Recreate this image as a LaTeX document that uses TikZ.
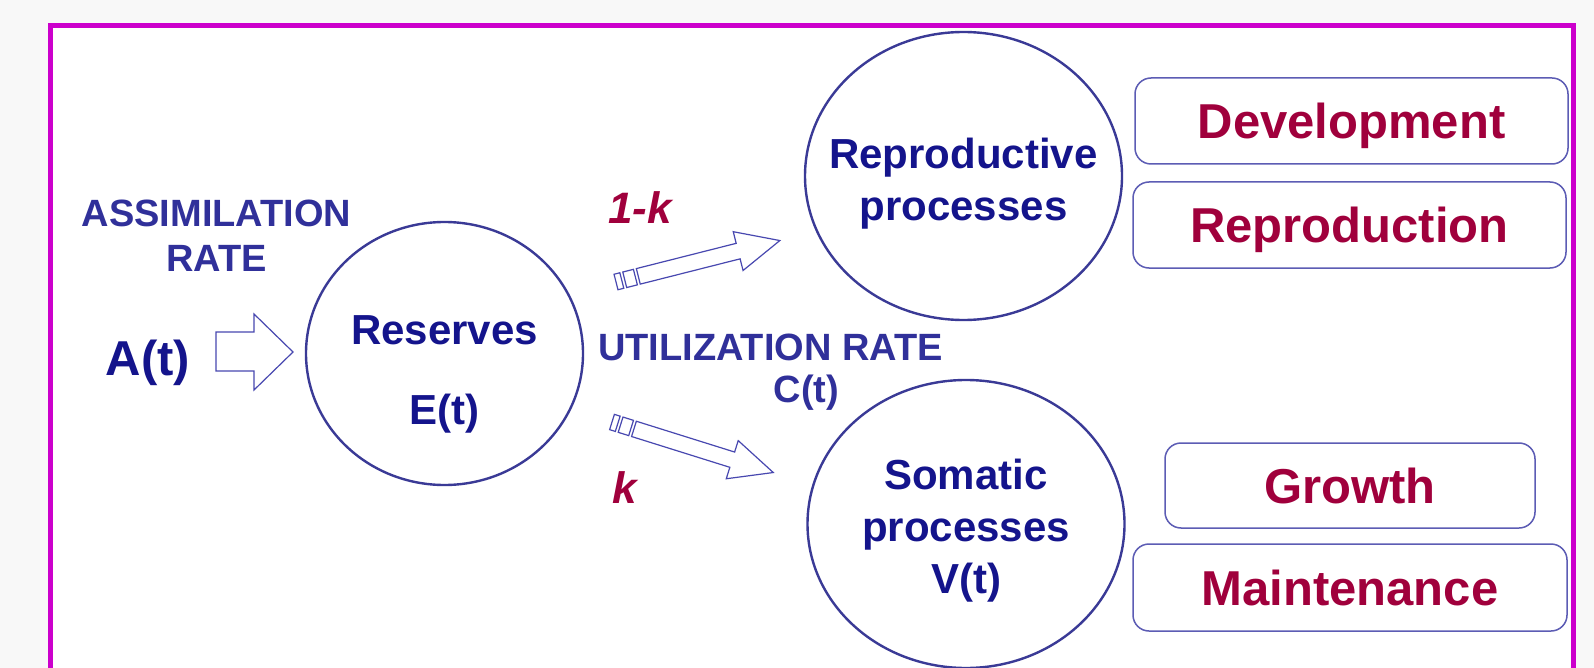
\documentclass[tikz,border=0pt]{standalone}
\usepackage{fontspec}
\setmainfont{Liberation Sans}
\usetikzlibrary{shapes.geometric}
\definecolor{navy}{HTML}{14148C}
\definecolor{labblue}{HTML}{30309A}
\definecolor{wine}{HTML}{A0003C}
\definecolor{ringblue}{HTML}{3A3A96}
\definecolor{boxblue}{HTML}{5C5CB4}
\definecolor{arrblue}{HTML}{4848B0}
\definecolor{framemag}{HTML}{CC00CC}
\definecolor{bggray}{HTML}{F8F8F8}
\begin{document}
\begin{tikzpicture}[x=0.5pt,y=-0.5pt,
  proc/.style={ellipse, draw=ringblue, line width=1.2pt, inner sep=0pt},
  proctext/.style={inner sep=0pt, align=center, text=navy,
    font=\bfseries\fontsize{21}{26}\selectfont},
  outbox/.style={draw=boxblue, line width=0.75pt, rounded corners=8pt, inner sep=0pt,
    text=wine, text height=19.6pt, text depth=2pt,
    font=\bfseries\fontsize{24.5}{29}\selectfont},
  lab/.style={text=labblue, inner sep=0pt, align=center,
    font=\bfseries\fontsize{19}{22.5}\selectfont},
  frac/.style={text=wine, inner sep=0pt, font=\bfseries\itshape\fontsize{22}{26}\selectfont},
  arrline/.style={draw=arrblue, line width=0.6pt, fill=white, line join=miter},
  striparrow/.pic={
    \path[arrline] (0,-8) rectangle (6,8);
    \path[arrline] (9,-8) rectangle (20,8);
    \path[arrline] (23,-8) -- (126,-8) -- (126,-20) -- (169,0) -- (126,20) -- (126,8) -- (23,8) -- cycle;
  }]
\fill[bggray] (0,0) rectangle (1594,668);
\useasboundingbox (0,0) rectangle (1594,668);
\draw[framemag, line width=2.5pt, fill=white] (50,26) rectangle (1573,720);

% labels
\node[lab] (assim) at (216.5,236) {ASSIMILATION\\RATE};
\node[text=navy, inner sep=0pt, font=\bfseries\fontsize{24.5}{29}\selectfont] (At) at (148,363) {A(t)};
\node[lab] (util) at (770.5,347) {UTILIZATION RATE};
\node[lab] (Ct) at (806.5,393) {C(t)};
\node[frac] (onek) at (640,208) {1-k};
\node[frac] (k) at (625,488) {k};

% circles
\node[proc, minimum width=138.5pt, minimum height=131.5pt] (res) at (444.5,353.5) {};
\node[proctext] (restext) at (444.5,374) {Reserves\\[14pt]E(t)};
\node[proc, minimum width=158.5pt, minimum height=144pt] (rep) at (963.5,176) {};
\node[proctext] (reptext) at (963.5,184) {Reproductive\\processes};
\node[proc, minimum width=158.5pt, minimum height=144pt] (som) at (966,524) {};
\node[proctext] (somtext) at (966,531) {Somatic\\processes\\V(t)};

% boxes
\node[outbox, minimum width=216.5pt, minimum height=43pt] (dev) at (1351.5,121) {Development};
\node[outbox, minimum width=216.5pt, minimum height=43pt] (repro) at (1349.5,225) {Reproduction};
\node[outbox, minimum width=185pt, minimum height=42.5pt] (grow) at (1350,485.5) {Growth};
\node[outbox, minimum width=217pt, minimum height=43.5pt] (maint) at (1350,587.5) {Maintenance};

% input arrow
\path[arrline] (216,332) -- (254,332) -- (254,314) -- (293,352) -- (254,390) -- (254,371) -- (216,371) -- cycle;

% striped arrows
\pic[rotate=14.2] at (616,282) {striparrow};
\pic[rotate=-17.4] at (612,422) {striparrow};
\end{tikzpicture}
\end{document}
